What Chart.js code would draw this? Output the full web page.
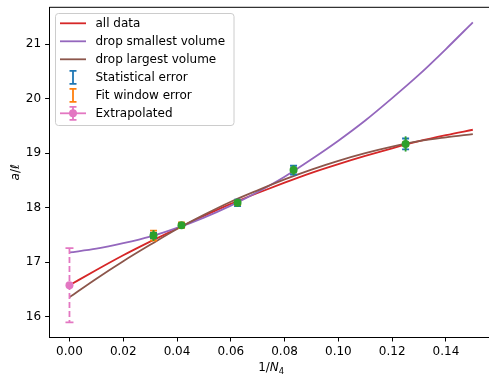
<!DOCTYPE html>
<html>
<head>
<meta charset="utf-8">
<script src="https://cdn.jsdelivr.net/npm/chart.js@4/dist/chart.umd.min.js"></script>
<style>
  html, body { margin: 0; padding: 0; overflow: hidden; background: #fff; }
  #wrap { width: 489px; height: 374px; overflow: hidden; }
  canvas { display: block; }
</style>
</head>
<body>
<div id="wrap"><canvas id="c" width="493" height="374"></canvas></div>
<script>
// Fit curves of a/l against 1/N4, sampled every 0.01
const fitX = [0.00, 0.01, 0.02, 0.03, 0.04, 0.05, 0.06, 0.07, 0.08, 0.09, 0.10, 0.11, 0.12, 0.13, 0.14, 0.15];
const allData = [16.58, 16.86, 17.13, 17.38, 17.62, 17.85, 18.07, 18.27, 18.46, 18.64, 18.80, 18.95, 19.09, 19.22, 19.33, 19.43];
const dropSmallest = [17.18, 17.25, 17.35, 17.47, 17.63, 17.82, 18.04, 18.29, 18.57, 18.89, 19.23, 19.60, 20.01, 20.44, 20.91, 21.40];
const dropLargest = [16.36, 16.70, 17.02, 17.32, 17.61, 17.87, 18.11, 18.32, 18.52, 18.70, 18.86, 19.00, 19.12, 19.22, 19.29, 19.35];

// Measured points (1/N4 for N4 = 32k, 24k, 16k, 12k, 8k)
const invVolume = [0.03125, 0.041667, 0.0625, 0.083333, 0.125];
const aOverL = [17.49, 17.68, 18.09, 18.69, 19.17];
const statErr = [0.05, 0.04, 0.06, 0.08, 0.10];
const fitWindowErr = [0.09, 0.05, 0.04, 0.03, 0.03];
const totalErr = [0.10, 0.06, 0.07, 0.09, 0.14];

// Continuum extrapolation
const extrapX = [0.0];
const extrapY = [16.58];
const extrapErr = [0.68];

// Axis ticks
const xTicks = [0.00, 0.02, 0.04, 0.06, 0.08, 0.10, 0.12, 0.14];
const yTicks = [16, 17, 18, 19, 20, 21];

const C = {
  red: '#d62728', purple: '#9467bd', brown: '#8c564b',
  blue: '#1f77b4', orange: '#ff7f0e', green: '#2ca02c', pink: '#e377c2'
};
const FONT = 'DejaVu Sans';
const FS = 12;
const LW = 1.8;

const pairs = (xs, ys) => xs.map((x, i) => ({ x: x, y: ys[i] }));

function curve(label, ys, color, order) {
  return {
    type: 'line', label: label, data: pairs(fitX, ys),
    borderColor: color, backgroundColor: color, borderWidth: LW,
    pointRadius: 0, cubicInterpolationMode: 'monotone', fill: false, order: order
  };
}

function vErr(ctx, xs, ys, x, y, e, color, cap, lw, dash) {
  const px = xs.getPixelForValue(x);
  const top = ys.getPixelForValue(y + e);
  const bot = ys.getPixelForValue(y - e);
  ctx.save();
  ctx.strokeStyle = color;
  ctx.lineWidth = lw;
  ctx.setLineDash(dash || []);
  ctx.beginPath();
  ctx.moveTo(px, top); ctx.lineTo(px, bot);
  ctx.stroke();
  ctx.setLineDash([]);
  if (cap > 0) {
    ctx.beginPath();
    ctx.moveTo(px - cap, top); ctx.lineTo(px + cap, top);
    ctx.moveTo(px - cap, bot); ctx.lineTo(px + cap, bot);
    ctx.stroke();
  }
  ctx.restore();
}

const errorBars = {
  id: 'errorBars',
  beforeDatasetDraw(chart, args) {
    const ds = chart.data.datasets[args.index];
    const ctx = chart.ctx, xs = chart.scales.x, ys = chart.scales.y;
    if (ds.label === 'measured') {
      invVolume.forEach((x, i) => vErr(ctx, xs, ys, x, aOverL[i], statErr[i], C.blue, 3.5, LW));
      invVolume.forEach((x, i) => vErr(ctx, xs, ys, x, aOverL[i], fitWindowErr[i], C.orange, 3.5, LW));
      invVolume.forEach((x, i) => vErr(ctx, xs, ys, x, aOverL[i], totalErr[i], C.green, 0, LW));
    }
    if (ds.label === 'Extrapolated') {
      extrapX.forEach((x, i) => vErr(ctx, xs, ys, x, extrapY[i], extrapErr[i], C.pink, 4, LW, [6, 3]));
    }
  }
};

const decorations = {
  id: 'decorations',
  afterDraw(chart) {
    const ctx = chart.ctx, a = chart.chartArea;
    ctx.save();
    // frame top and right
    ctx.strokeStyle = '#000';
    ctx.lineWidth = 1;
    ctx.beginPath();
    ctx.moveTo(a.left, a.top); ctx.lineTo(a.right, a.top); ctx.lineTo(a.right, a.bottom);
    ctx.stroke();

    // x axis title: 1/N_4
    ctx.fillStyle = '#000';
    ctx.textBaseline = 'alphabetic';
    const cx = (a.left + a.right) / 2, by = 371;
    ctx.font = FS + 'px "' + FONT + '"';
    const w1 = ctx.measureText('1/').width;
    ctx.font = 'oblique ' + FS + 'px "' + FONT + '"';
    const w2 = ctx.measureText('N').width;
    ctx.font = (FS * 0.7) + 'px "' + FONT + '"';
    const w3 = ctx.measureText('4').width;
    let sx = cx - (w1 + w2 + w3) / 2;
    ctx.font = FS + 'px "' + FONT + '"';
    ctx.fillText('1/', sx, by); sx += w1;
    ctx.font = 'oblique ' + FS + 'px "' + FONT + '"';
    ctx.fillText('N', sx, by); sx += w2;
    ctx.font = (FS * 0.7) + 'px "' + FONT + '"';
    ctx.fillText('4', sx, by + 2.5);

    // y axis title: a/l
    ctx.save();
    ctx.translate(19, (a.top + a.bottom) / 2);
    ctx.rotate(-Math.PI / 2);
    ctx.font = 'oblique ' + FS + 'px "' + FONT + '"';
    const ya = ctx.measureText('a').width;
    const yl = ctx.measureText('\u2113').width;
    ctx.font = FS + 'px "' + FONT + '"';
    const ys = ctx.measureText('/').width;
    let tx = -(ya + ys + yl) / 2;
    ctx.font = 'oblique ' + FS + 'px "' + FONT + '"';
    ctx.fillText('a', tx, 0); tx += ya;
    ctx.font = FS + 'px "' + FONT + '"';
    ctx.fillText('/', tx, 0); tx += ys;
    ctx.font = 'oblique ' + FS + 'px "' + FONT + '"';
    ctx.fillText('\u2113', tx, 0);
    ctx.restore();

    // legend
    const L = 55.5, T = 13.5, R = 234, B = 125.5;
    ctx.beginPath();
    ctx.roundRect(L, T, R - L, B - T, 3);
    ctx.fillStyle = 'rgba(255,255,255,0.8)';
    ctx.fill();
    ctx.strokeStyle = '#cccccc';
    ctx.lineWidth = 1;
    ctx.stroke();

    const hx0 = 60, hx1 = 86, hc = 73, textX = 95.5;
    const rows = [
      { label: 'all data', kind: 'line', color: C.red },
      { label: 'drop smallest volume', kind: 'line', color: C.purple },
      { label: 'drop largest volume', kind: 'line', color: C.brown },
      { label: 'Statistical error', kind: 'err', color: C.blue },
      { label: 'Fit window error', kind: 'err', color: C.orange },
      { label: 'Extrapolated', kind: 'extrap', color: C.pink }
    ];
    rows.forEach((r, i) => {
      const y = 23.3 + i * 18;
      ctx.strokeStyle = r.color;
      ctx.fillStyle = r.color;
      ctx.lineWidth = LW;
      if (r.kind === 'line' || r.kind === 'extrap') {
        ctx.beginPath(); ctx.moveTo(hx0, y); ctx.lineTo(hx1, y); ctx.stroke();
      }
      if (r.kind === 'err' || r.kind === 'extrap') {
        ctx.beginPath();
        ctx.moveTo(hc, y - 6.5); ctx.lineTo(hc, y + 6.5);
        ctx.moveTo(hc - 3.5, y - 6.5); ctx.lineTo(hc + 3.5, y - 6.5);
        ctx.moveTo(hc - 3.5, y + 6.5); ctx.lineTo(hc + 3.5, y + 6.5);
        ctx.stroke();
      }
      if (r.kind === 'extrap') {
        ctx.beginPath(); ctx.arc(hc, y, 4, 0, Math.PI * 2); ctx.fill();
      }
      ctx.fillStyle = '#000';
      ctx.font = FS + 'px "' + FONT + '"';
      ctx.textBaseline = 'middle';
      ctx.fillText(r.label, textX, y + 0.5);
    });
    ctx.restore();
  }
};

const axisCommon = {
  type: 'linear',
  grid: { display: true, drawOnChartArea: false, drawTicks: true, tickLength: 4.2, tickColor: '#000', tickWidth: 1 },
  border: { display: true, color: '#000', width: 1 },
  ticks: { color: '#000', font: { family: FONT, size: FS }, autoSkip: false, maxRotation: 0, minRotation: 0 }
};

// tick labels never push the axes box inward
function noLabelPadding(s) {
  s.paddingTop = 0; s.paddingBottom = 0; s.paddingLeft = 0; s.paddingRight = 0;
}

new Chart(document.getElementById('c'), {
  data: {
    datasets: [
      {
        type: 'scatter', label: 'Extrapolated', data: pairs(extrapX, extrapY),
        pointRadius: 4, pointBackgroundColor: C.pink, pointBorderColor: C.pink, pointBorderWidth: 0,
        showLine: false, order: 1
      },
      {
        type: 'scatter', label: 'measured', data: pairs(invVolume, aOverL),
        pointRadius: 4, pointBackgroundColor: C.green, pointBorderColor: C.green, pointBorderWidth: 0,
        showLine: false, order: 2
      },
      curve('drop largest volume', dropLargest, C.brown, 3),
      curve('drop smallest volume', dropSmallest, C.purple, 4),
      curve('all data', allData, C.red, 5)
    ]
  },
  options: {
    responsive: false,
    animation: false,
    events: [],
    devicePixelRatio: 1,
    // the axes box runs past the right edge of the visible page
    layout: { autoPadding: false, padding: { left: 0, top: 7.3, right: 0, bottom: 0 } },
    plugins: { legend: { display: false }, tooltip: { enabled: false } },
    scales: {
      x: Object.assign({}, axisCommon, {
        min: -0.0075, max: 0.1575,
        ticks: Object.assign({}, axisCommon.ticks, { padding: 3, callback: v => v.toFixed(2) }),
        afterBuildTicks: s => { s.ticks = xTicks.map(v => ({ value: v })); },
        afterFit: s => { s.height = 374 - 337.3; noLabelPadding(s); }
      }),
      y: Object.assign({}, axisCommon, {
        min: 15.625, max: 21.675,
        ticks: Object.assign({}, axisCommon.ticks, { padding: 4, callback: v => String(v) }),
        afterBuildTicks: s => { s.ticks = yTicks.map(v => ({ value: v })); },
        afterFit: s => { s.width = 49.3; noLabelPadding(s); }
      })
    }
  },
  plugins: [errorBars, decorations]
});
</script>
</body>
</html>
